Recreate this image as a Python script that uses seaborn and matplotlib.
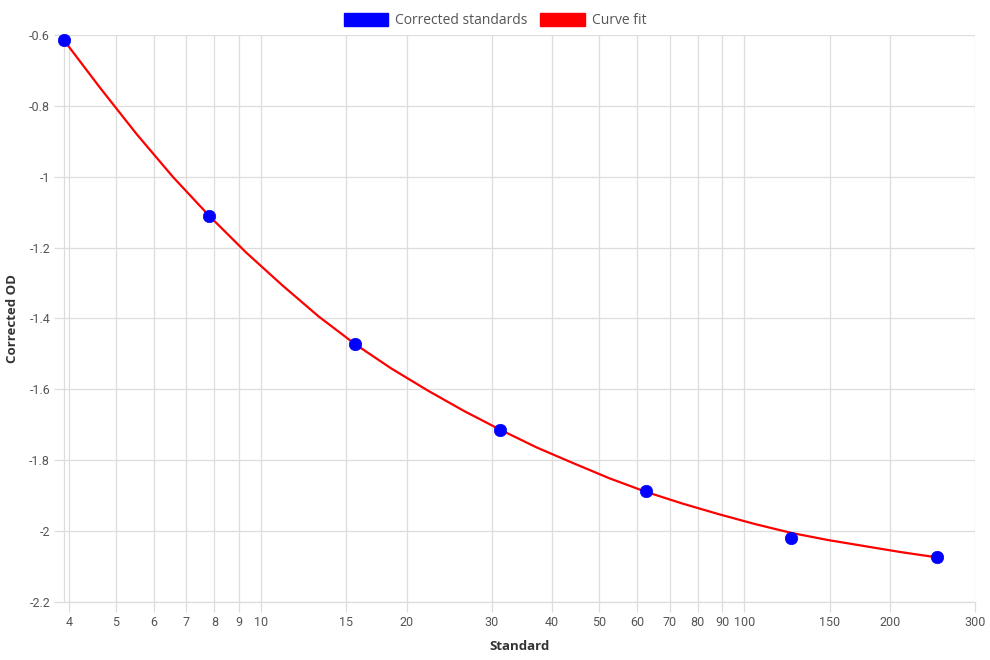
import numpy as np
import pandas as pd
import matplotlib
matplotlib.use("Agg")
import matplotlib.pyplot as plt
import matplotlib.patches as mpatches
from matplotlib.ticker import FixedLocator, FixedFormatter, NullLocator
import seaborn as sns

# standards (log2 dilution series) and their corrected OD
standard = [3.90625, 7.8125, 15.625, 31.25, 62.5, 125, 250]
corrected_od = [-0.615, -1.111, -1.472, -1.714, -1.888, -2.020, -2.074]

# curve fit at quarter steps between the standards
fit_x = [3.90625, 4.645, 5.524, 6.569,
         7.8125, 9.291, 11.049, 13.139,
         15.625, 18.581, 22.097, 26.278,
         31.25, 37.163, 44.194, 52.556,
         62.5, 74.325, 88.388, 105.11,
         125, 148.65, 176.78, 210.22, 250]
fit_y = [-0.615, -0.750, -0.880, -1.001,
         -1.111, -1.213, -1.306, -1.394,
         -1.472, -1.541, -1.603, -1.661,
         -1.714, -1.764, -1.808, -1.851,
         -1.889, -1.922, -1.952, -1.980,
         -2.005, -2.025, -2.042, -2.059, -2.074]

x_ticks = [4, 5, 6, 7, 8, 9, 10, 15, 20, 30, 40, 50, 60, 70, 80, 90, 100,
           150, 200, 300]
y_ticks = [-0.6, -0.8, -1.0, -1.2, -1.4, -1.6, -1.8, -2.0, -2.2]
y_labels = ["-0.6", "-0.8", "-1", "-1.2", "-1.4", "-1.6", "-1.8", "-2", "-2.2"]

sns.set_theme(style="white")
plt.rcParams["font.family"] = ["Roboto", "DejaVu Sans"]

pts = pd.DataFrame({"Standard": standard, "OD": corrected_od})
fit = pd.DataFrame({"Standard": fit_x, "OD": fit_y})

fig = plt.figure(figsize=(9.9, 6.6), dpi=100)
ax = fig.add_axes([64 / 990, 1 - 602 / 660, (975 - 64) / 990, (602 - 35) / 660])

sns.lineplot(data=fit, x="Standard", y="OD", ax=ax, color="#ff0000",
             linewidth=1.6, zorder=2, solid_joinstyle="round")
sns.scatterplot(data=pts, x="Standard", y="OD", ax=ax, color="#0000ff",
                s=80, edgecolor="#0000ff", linewidth=0.5, zorder=3, clip_on=False)

ax.set_xscale("log")
ax.set_xlim(3.90625, 300)
ax.set_ylim(-2.2, -0.6)
ax.xaxis.set_major_locator(FixedLocator(x_ticks))
ax.xaxis.set_major_formatter(FixedFormatter([str(t) for t in x_ticks]))
ax.xaxis.set_minor_locator(NullLocator())
ax.yaxis.set_major_locator(FixedLocator(y_ticks))
ax.yaxis.set_major_formatter(FixedFormatter(y_labels))

grid_c = "#dddddd"
ax.grid(True, color=grid_c, linewidth=0.9)
ax.set_axisbelow(True)
for side in ["top", "right"]:
    ax.spines[side].set_visible(False)
for side in ["left", "bottom"]:
    ax.spines[side].set_color(grid_c)
    ax.spines[side].set_linewidth(0.9)
ax.tick_params(axis="both", which="major", length=7, width=0.9, color=grid_c,
               labelsize=9, labelcolor="#555555", pad=3, bottom=True, left=True)

ax.set_xlabel("Standard", fontsize=9.5, fontweight="bold", color="#333333",
              family=["Open Sans", "DejaVu Sans"], labelpad=8)
ax.set_ylabel("Corrected OD", fontsize=9.5, fontweight="bold", color="#333333",
              family=["Open Sans", "DejaVu Sans"], labelpad=7)

handles = [mpatches.Patch(facecolor="#0000ff", edgecolor="#0000ff", label="Corrected standards"),
           mpatches.Patch(facecolor="#ff0000", edgecolor="#ff0000", label="Curve fit")]
fig.legend(handles=handles, loc="upper center", bbox_to_anchor=(0.5, 1.0), ncol=2,
           frameon=False, handlelength=3.2, handleheight=1.1, handletextpad=0.5,
           columnspacing=0.9, prop={"family": ["Open Sans", "DejaVu Sans"], "size": 10},
           labelcolor="#555555")

plt.savefig("out.png", dpi=100)
plt.close()
